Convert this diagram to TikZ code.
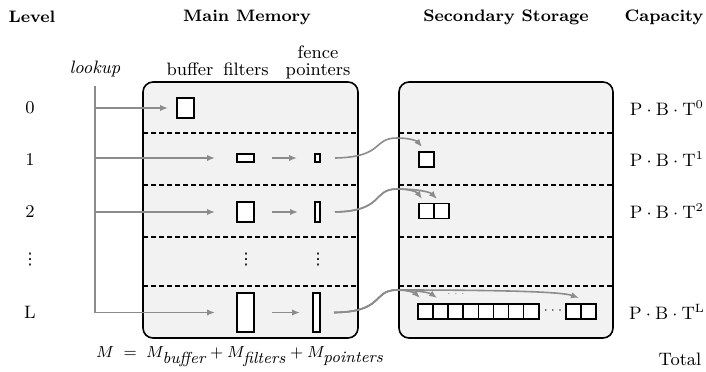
\documentclass[tikz,border=0pt]{standalone}
\usepackage{fontspec}
\newfontfamily\djv{DejaVu Sans}
\usetikzlibrary{arrows.meta}
\begin{document}
\begin{tikzpicture}[x=0.5pt,y=-0.5pt,
  every node/.style={font=\fontsize{9}{11}\selectfont, inner sep=0pt, outer sep=0pt},
  head/.style={font=\fontsize{8.3}{10}\selectfont\bfseries},
  panel/.style={draw, line width=0.8pt, rounded corners=5pt, fill=black!5},
  blk/.style={draw, line width=0.8pt, fill=white},
  garrow/.style={draw=black!45, line width=0.8pt, -{Latex[length=4pt,width=3.2pt]}},
  gline/.style={draw=black!45, line width=0.8pt},
  divider/.style={line width=0.6pt, dash pattern=on 2.5pt off 1.5pt},
  vdot/.style={font=\fontsize{8}{8}\selectfont\djv},
]
\useasboundingbox (0,0) rectangle (706,371);

% headings
\node[head] (hl) at (32,17) {Level};
\node[head] (hm) at (247,17) {Main Memory};
\node[head] (hs) at (506,17) {Secondary Storage};
\node[head] (hc) at (664,17) {Capacity};

% column labels
\node (lkp) at (95,69) {\textit{lookup}};
\node (cb) at (190,69) {buffer};
\node (cf) at (246,69) {filters};
\node[align=center, font=\fontsize{9}{8.6}\selectfont] (cp) at (318,62) {fence\\pointers};

% panels
\node[panel, minimum width=107.5pt, minimum height=128pt] (mm) at (250.5,210) {};
\node[panel, minimum width=107pt, minimum height=128pt] (ss) at (506,210) {};

\foreach \y in {133,185,237,286}{
  \path (0,\y) coordinate (dv);
  \draw[divider] (mm.west |- dv) -- (mm.east |- dv);
  \draw[divider] (ss.west |- dv) -- (ss.east |- dv);
}

% level labels
\node (l0) at (30,108) {0};
\node (l1) at (30,159) {1};
\node (l2) at (30,211) {2};
\node[vdot] (l3) at (30,260) {⋮};
\node (l4) at (30,312) {L};

% capacity labels
\node (c0) at (667,108) {$\mathrm{P}\cdot\mathrm{B}\cdot\mathrm{T}^{0}$};
\node (c1) at (667,159) {$\mathrm{P}\cdot\mathrm{B}\cdot\mathrm{T}^{1}$};
\node (c2) at (667,211) {$\mathrm{P}\cdot\mathrm{B}\cdot\mathrm{T}^{2}$};
\node (c4) at (667,312) {$\mathrm{P}\cdot\mathrm{B}\cdot\mathrm{T}^{\mathrm{L}}$};
\node (tot) at (680,359) {Total};

% equation
\node[font=\fontsize{8}{10}\selectfont] (eq) at (240,357) {$M \;=\; M_{\textit{buffer}} + M_{\textit{filters}} + M_{\textit{pointers}}$};

% main memory blocks
\node[blk, minimum width=8.5pt, minimum height=10pt] (buf) at (185.5,108) {};
\node[blk, minimum width=8.5pt, minimum height=4pt] (b1) at (245.5,158) {};
\node[blk, minimum width=2.5pt, minimum height=4pt] (f1) at (317.5,158) {};
\node[blk, minimum width=8.5pt, minimum height=10pt] (b2) at (245.5,212) {};
\node[blk, minimum width=2.5pt, minimum height=10pt] (f2) at (317.5,212) {};
\node[vdot] (d1) at (246,260) {⋮};
\node[vdot] (d2) at (318,260) {⋮};
\node[blk, minimum width=8.5pt, minimum height=19.5pt] (b4) at (245.5,312.5) {};
\node[blk, minimum width=3.5pt, minimum height=19.5pt] (f4) at (316.5,312.5) {};

% secondary storage blocks
\node[blk, minimum width=7.5pt, minimum height=7.5pt] (s11) at (426.5,159.5) {};
\node[blk, minimum width=7.5pt, minimum height=7.5pt] (s21) at (426.5,211) {};
\node[blk, minimum width=7.5pt, minimum height=7.5pt] (s22) at (441.5,211) {};
\foreach \i in {0,...,7}{
  \node[blk, minimum width=7.55pt, minimum height=7.5pt] (sL\i) at ({425.5+15.1*\i},311.5) {};
}
\node (sdots) at (553,311) {\fontsize{6}{6}\selectfont$\cdots$};
\node[blk, minimum width=7.5pt, minimum height=7.5pt] (sLa) at (573.5,311.5) {};
\node[blk, minimum width=7.5pt, minimum height=7.5pt] (sLb) at (588.5,311.5) {};
\node[text=black!45] (adots) at (456,294) {\fontsize{5}{5}\selectfont$\cdots$};

% lookup lines
\coordinate (lktop) at (95,86);
\coordinate (k0) at (95,108);
\coordinate (k1) at (95,158);
\coordinate (k2) at (95,212);
\coordinate (k4) at (95,312.5);
\draw[gline] (lktop) -- (k4);
\draw[garrow, shorten >=4.5pt] (k0) -- (buf.west);
\draw[garrow, shorten >=11pt] (k1) -- (b1.west);
\draw[garrow, shorten >=11pt] (k2) -- (b2.west);
\draw[garrow, shorten >=11pt] (k4) -- (b4.west);

% filters -> fence pointers
\draw[garrow, shorten <=9pt, shorten >=9pt] (b1.east) -- (f1.west);
\draw[garrow, shorten <=9pt, shorten >=8.5pt] (b2.east) -- (f2.west);
\draw[garrow, shorten <=9pt, shorten >=6.5pt] (b4.east) -- (f4.west);

% fence pointers -> secondary storage
\draw[garrow] ([xshift=7.5pt]f1.east) .. controls (385,157) and (372,138) .. (397,138)
  .. controls (410,138) and (417,141) .. ([shift={(-4.5,-5)}]s11.north);
\draw[garrow] ([xshift=7.5pt]f2.east) .. controls (385,211) and (372,189) .. (397,189)
  .. controls (410,189) and (417,192) .. ([shift={(-4.5,-4.5)}]s21.north);
\draw[garrow] ([xshift=7.5pt]f2.east) .. controls (385,211) and (372,189) .. (397,189)
  .. controls (418,189) and (430,192) .. ([shift={(-4.5,-4.5)}]s22.north);
\draw[garrow] ([xshift=7pt]f4.east) .. controls (385,312) and (372,290) .. (397,290)
  .. controls (408,290) and (415,293) .. ([shift={(-5.5,-6)}]sL0.north);
\draw[garrow] ([xshift=7pt]f4.east) .. controls (385,312) and (372,290) .. (397,290)
  .. controls (418,290) and (430,293) .. ([shift={(-3.5,-6)}]sL1.north);
\draw[garrow] ([xshift=7pt]f4.east) .. controls (385,312) and (372,290) .. (397,290)
  .. controls (480,290) and (560,291) .. ([shift={(5.5,-6)}]sLa.north);
\end{tikzpicture}
\end{document}
